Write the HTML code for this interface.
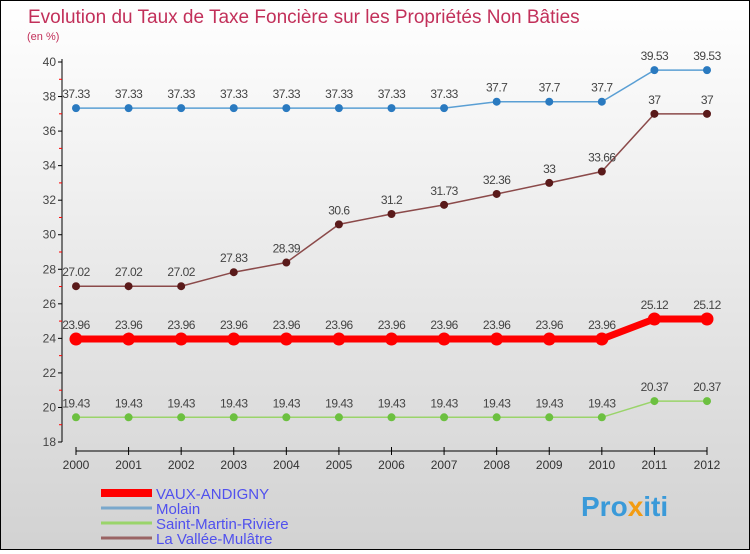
<!DOCTYPE html>
<html><head><meta charset="utf-8"><style>
body{margin:0;width:750px;height:550px;overflow:hidden;font-family:"Liberation Sans",sans-serif}
#wrap{position:relative;width:748px;height:548px;border:1px solid #000;background:linear-gradient(#fff,#d2d2d2)}
</style></head><body>
<div id="wrap">
<svg id="c" width="748" height="548">
<text x="27" y="22" font-size="19" fill="#c2305a">Evolution du Taux de Taxe Foncière sur les Propriétés Non Bâties</text>
<text x="26" y="39" font-size="11" fill="#c2305a">(en %)</text>
<text x="580" y="515" font-size="28" font-weight="bold" fill="#3a9ad9">Pro<tspan fill="#f39c12">x</tspan>iti</text>
</svg></div>
<script>
const years=["2000","2001","2002","2003","2004","2005","2006","2007","2008","2009","2010","2011","2012"];
const vaux=[23.96,23.96,23.96,23.96,23.96,23.96,23.96,23.96,23.96,23.96,23.96,25.12,25.12];
const molain=[37.33,37.33,37.33,37.33,37.33,37.33,37.33,37.33,37.7,37.7,37.7,39.53,39.53];
const stmartin=[19.43,19.43,19.43,19.43,19.43,19.43,19.43,19.43,19.43,19.43,19.43,20.37,20.37];
const vallee=[27.02,27.02,27.02,27.83,28.39,30.6,31.2,31.73,32.36,33,33.66,37,37];
const yTicks=[18,20,22,24,26,28,30,32,34,36,38,40];
const svg=document.getElementById('c');const NS='http://www.w3.org/2000/svg';
const X=i=>75+i*(631/12);const Y=v=>441-(v-18)*(380/22);
function mk(t,a,p){const e=document.createElementNS(NS,t);for(const k in a)e.setAttribute(k,a[k]);(p||svg).appendChild(e);return e;}
let ax=mk('line',{x1:61,y1:58,x2:61,y2:441,stroke:'#000'});


for(let v=19;v<40;v+=2){mk('line',{x1:58,x2:61,y1:Y(v),y2:Y(v),stroke:'#f00'});}
yTicks.forEach(v=>{mk('line',{x1:57,x2:61,y1:Y(v),y2:Y(v),stroke:'#000'});
const t=mk('text',{x:55,y:Y(v)+4,'font-size':12,'text-anchor':'end',fill:'#444'});t.textContent=v;

});
let xa=mk('line',{x1:75,y1:450,x2:706,y2:450,stroke:'#000'});


years.forEach((y,i)=>{mk('line',{x1:X(i),x2:X(i),y1:446,y2:454,stroke:'#000'});
const t=mk('text',{x:X(i),y:468,'font-size':12,'text-anchor':'middle',fill:'#333'});t.textContent=y;

});
function series(d,color,dot,w,r,name){
const g=mk('g',{});


mk('polyline',{points:d.map((v,i)=>X(i)+','+Y(v)).join(' '),fill:'none',stroke:color,'stroke-width':w},g);
d.forEach((v,i)=>{mk('circle',{cx:X(i),cy:Y(v),r:r,fill:dot},g);
const t=mk('text',{x:X(i),y:Y(v)-10,'font-size':12,'text-anchor':'middle',fill:'#444','letter-spacing':'-0.5'},g);t.textContent=v;});}
series(molain,'#5a9fd4','#2a7ac0',1.5,4,'series-molain');
series(vallee,'#8b4a4a','#5a1a1a',1.5,4,'series-la-vallee-mulatre');
series(stmartin,'#9ad46a','#6cc040',1.5,4,'series-saint-martin-riviere');
series(vaux,'#f00','#f00',7,6.5,'series-vaux-andigny');
const leg=[['VAUX-ANDIGNY','#f00',8],['Molain','#7aa8cc',3],['Saint-Martin-Rivière','#9ad46a',3],['La Vallée-Mulâtre','#9a6464',3]];
leg.forEach((l,i)=>{const y=492+i*15;
const g=mk('g',{});


mk('line',{x1:100,x2:151,y1:y,y2:y,stroke:l[1],'stroke-width':l[2]},g);
const t=mk('text',{x:155,y:y+6,'font-size':15,fill:'#5050ee'},g);t.textContent=l[0];});
</script></body></html>
